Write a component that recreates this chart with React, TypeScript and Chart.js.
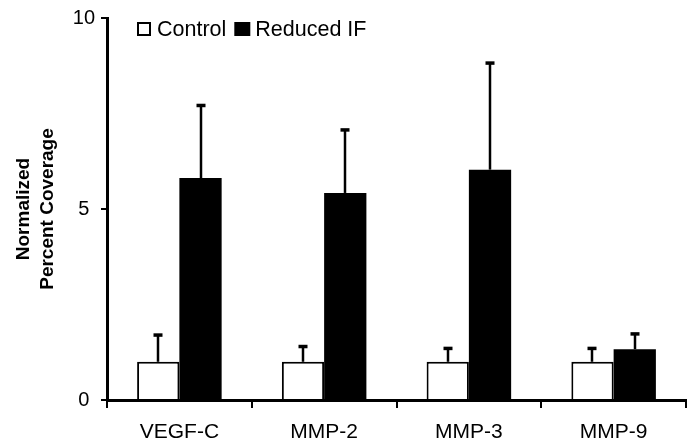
import React, { useEffect, useRef } from "react";
import { Chart, registerables } from "chart.js";

Chart.register(...registerables);

const categories = ["VEGF-C", "MMP-2", "MMP-3", "MMP-9"];
const controlValues = [1.0, 1.0, 1.0, 1.0];
const controlErrors = [0.7, 0.4, 0.35, 0.35];
const reducedValues = [5.81, 5.42, 6.03, 1.33];
const reducedErrors = [1.9, 1.65, 2.79, 0.4];
const seriesLabels = ["Control", "Reduced IF"];
const yTitle = ["Normalized", "Percent Coverage"];
const errorSets = [controlErrors, reducedErrors];

const FONT = '"Liberation Sans", Arial, Helvetica, sans-serif';

const errorBarPlugin = {
  id: "errorBars",
  afterDatasetsDraw(chart: any) {
    const ctx = chart.ctx;
    const yScale = chart.scales.y;
    ctx.save();
    ctx.strokeStyle = "#000";
    chart.data.datasets.forEach((ds: any, i: number) => {
      const meta = chart.getDatasetMeta(i);
      const errs = errorSets[i];
      meta.data.forEach((bar: any, j: number) => {
        const v = ds.data[j];
        const e = errs[j];
        const x = Math.round(bar.x);
        const yTop = yScale.getPixelForValue(v);
        const yErr = yScale.getPixelForValue(v + e);
        ctx.lineWidth = 2.5;
        ctx.beginPath();
        ctx.moveTo(x, yTop);
        ctx.lineTo(x, yErr);
        ctx.stroke();
        ctx.lineWidth = 3.5;
        ctx.beginPath();
        ctx.moveTo(x - 4.5, yErr);
        ctx.lineTo(x + 4.5, yErr);
        ctx.stroke();
      });
    });
    ctx.restore();
  },
};

const legendPlugin = {
  id: "boxLegend",
  afterDraw(chart: any) {
    const ctx = chart.ctx;
    ctx.save();
    ctx.font = `21.5px ${FONT}`;
    ctx.textBaseline = "middle";
    ctx.textAlign = "left";
    let x = chart.chartArea.left + 30;
    const y = 29;
    const box = 14;
    chart.data.datasets.forEach((ds: any, i: number) => {
      if (ds.backgroundColor === "#ffffff") {
        ctx.fillStyle = "#ffffff";
        ctx.fillRect(x, y - box / 2, box, box);
        ctx.lineWidth = 2;
        ctx.strokeStyle = "#000";
        ctx.strokeRect(x + 1, y - box / 2 + 1, box - 2, box - 2);
        x += box + 6;
      } else {
        ctx.fillStyle = "#000";
        ctx.fillRect(x, y - box / 2, box + 2, box);
        x += box + 2 + 5;
      }
      ctx.fillStyle = "#000";
      ctx.fillText(ds.label, x, y + 1);
      x += ctx.measureText(ds.label).width + 8;
    });
    ctx.restore();
  },
};

export default function App() {
  const canvasRef = useRef<HTMLCanvasElement | null>(null);

  useEffect(() => {
    if (!canvasRef.current) return;
    const chart = new Chart(canvasRef.current, {
      type: "bar",
      data: {
        labels: categories,
        datasets: [
          {
            label: seriesLabels[0],
            data: controlValues,
            backgroundColor: "#ffffff",
            borderColor: "#000000",
            borderWidth: 2,
            categoryPercentage: 0.584,
            barPercentage: 1.0,
          },
          {
            label: seriesLabels[1],
            data: reducedValues,
            backgroundColor: "#000000",
            borderColor: "#000000",
            borderWidth: 0,
            categoryPercentage: 0.584,
            barPercentage: 1.0,
          },
        ],
      },
      options: {
        responsive: false,
        animation: false,
        events: [],
        layout: { padding: { top: 15, right: 9, left: 0, bottom: 0 } },
        plugins: {
          legend: { display: false },
          tooltip: { enabled: false },
        },
        scales: {
          x: {
            afterFit(scale: any) {
              scale.height = 42;
            },
            grid: {
              display: true,
              drawOnChartArea: false,
              drawTicks: true,
              tickLength: 8,
              color: "#000",
              lineWidth: 2,
              offset: true,
            },
            border: { display: true, color: "#000", width: 3 },
            ticks: {
              color: "#000",
              font: { family: FONT, size: 21 },
              padding: 12,
            },
          },
          y: {
            min: 0,
            max: 10,
            afterFit(scale: any) {
              scale.width = 107;
            },
            grid: {
              display: true,
              drawOnChartArea: false,
              drawTicks: true,
              tickLength: 6,
              color: "#000",
              lineWidth: 2,
            },
            border: { display: true, color: "#000", width: 3 },
            ticks: {
              stepSize: 5,
              color: "#000",
              font: { family: FONT, size: 20 },
              padding: 6,
              crossAlign: "center",
            },
            title: {
              display: true,
              text: yTitle,
              color: "#000",
              font: { family: FONT, size: 19, weight: "bold", lineHeight: 1.3 },
              padding: { top: 11, bottom: 0 },
            },
          },
        },
      },
      plugins: [errorBarPlugin, legendPlugin],
    });
    return () => chart.destroy();
  }, []);

  return (
    <div style={{ position: "absolute", left: 0, top: 0, width: 695, height: 442, background: "#fff" }}>
      <canvas ref={canvasRef} width={695} height={442} style={{ display: "block" }} />
    </div>
  );
}
